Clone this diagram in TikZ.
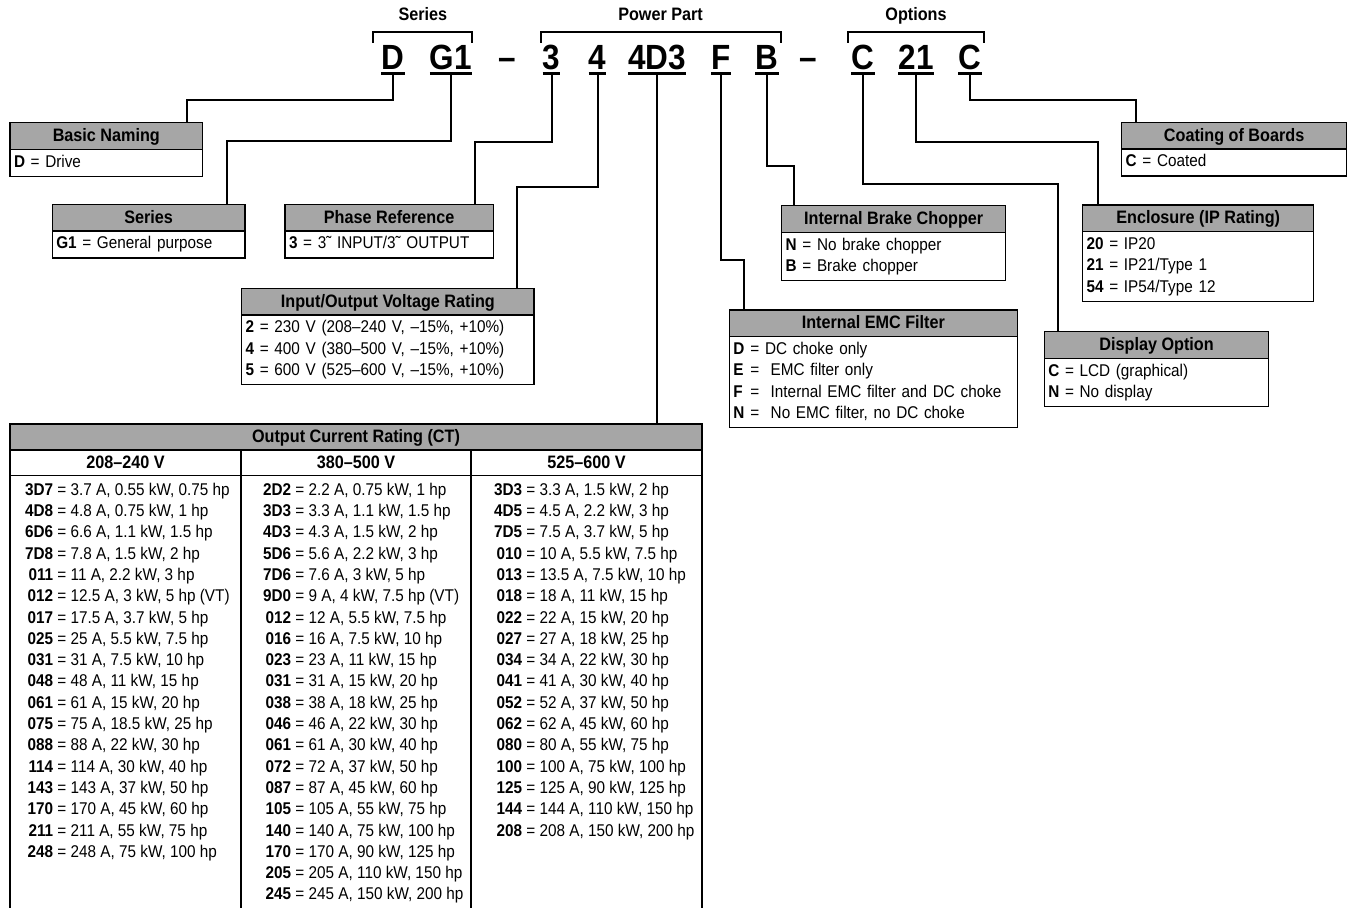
\documentclass[tikz,border=0pt]{standalone}
\usepackage{fontspec}
\setmainfont{Liberation Sans}[FakeStretch=0.9]
\usetikzlibrary{calc}
\definecolor{hdrgray}{RGB}{166,166,166}
\newcommand\bodyfont{\fontsize{17}{21.3}\selectfont}
\newcommand\hdrfont{\fontsize{18}{21}\selectfont\bfseries}
\newcommand\codefont{\fontsize{35}{40}\selectfont\bfseries}
\newcommand\entry[2]{\strut\textbf{#1} = #2}
\newcommand\emc[2]{\strut\makebox[11.5pt][l]{\textbf{#1}} = #2}
\newcommand\rating[2]{\strut\makebox[29pt][r]{\textbf{#1}} = #2}

\begin{document}
\begin{tikzpicture}[x=1pt, y=-1pt,
  code/.style={font=\codefont, inner sep=0pt, anchor=base},
  uline/.style={line width=2.4pt},
  wire/.style={line width=2pt},
  brk/.style={line width=2pt},
  lbl/.style={font=\hdrfont, inner sep=0pt, anchor=base},
  hdr/.style={draw, line width=1.3pt, fill=hdrgray, font=\hdrfont, inner sep=0pt, outer sep=0pt,
    minimum height=26.7pt, text height=14pt, text depth=3pt, anchor=north west},
  body/.style={draw, line width=1.3pt, font=\bodyfont, align=left, inner xsep=4pt, inner ysep=2.85pt,
    outer sep=0pt, anchor=north west},
  cell/.style={draw, line width=1.3pt, font=\hdrfont, inner sep=0pt, outer sep=0pt,
    minimum height=25.5pt, text height=14pt, text depth=3pt, anchor=north west},
  frame/.style={line width=1.3pt},
  colbody/.style={font=\bodyfont, align=left, inner xsep=0pt, inner ysep=4.6pt, anchor=north west}]

\useasboundingbox (0,0) rectangle (1351,907);

% type code
\node[code] (cD) at (393,70) {D};
\node[code] (cG) at (451,70) {G1};
\node[code] (dashA) at (507,70) {–};
\node[code] (c3) at (551.5,70) {3};
\node[code] (c4) at (597.5,70) {4};
\node[code] (c4D3) at (657,70) {4D3};
\node[code] (cF) at (721,70) {F};
\node[code] (cB) at (767,70) {B};
\node[code] (dashB) at (808,70) {–};
\node[code] (cC) at (863,70) {C};
\node[code] (c21) at (916,70) {21};
\node[code] (cCo) at (970,70) {C};
\foreach \c in {cD,cG,c3,c4,c4D3,cF,cB,cC,c21,cCo} {
  \draw[uline] ([yshift=-3.5pt]\c.base west) -- ([yshift=-3.5pt]\c.base east);
  \coordinate (u\c) at ([yshift=-3.5pt]\c.base);
}

% brackets
\coordinate (sL) at ([xshift=-8pt]cD.west); \coordinate (sR) at (cG.east);
\coordinate (pL) at ([xshift=-2pt]c3.west); \coordinate (pR) at ([xshift=2pt]cB.east);
\coordinate (oL) at ([xshift=-3pt]cC.west); \coordinate (oR) at ([xshift=2pt]cCo.east);
\draw[brk] (sL |- 0,43) -- (sL |- 0,32) -- (sR |- 0,32) -- (sR |- 0,43);
\draw[brk] (pL |- 0,43) -- (pL |- 0,32) -- (pR |- 0,32) -- (pR |- 0,43);
\draw[brk] (oL |- 0,43) -- (oL |- 0,32) -- (oR |- 0,32) -- (oR |- 0,43);
\node[lbl] (lSeries) at ($(sL |- 0,21)!0.5!(sR |- 0,21)$) {Series};
\node[lbl] (lPower) at ($(pL |- 0,21)!0.5!(pR |- 0,21)$) {Power Part};
\node[lbl] (lOptions) at ($(oL |- 0,21)!0.5!(oR |- 0,21)$) {Options};

% boxes
\node[hdr, minimum width=192.7pt] (hBasic) at (10,122.7) {Basic Naming};
\node[body, text width=184.7pt] (bBasic) at (hBasic.south west) {\entry{D}{Drive}};

\node[hdr, minimum width=192.7pt] (hSeries) at (52.3,204.3) {Series};
\node[body, text width=184.7pt] (bSeries) at (hSeries.south west) {\entry{G1}{General purpose}};

\node[hdr, minimum width=208.3pt] (hPhase) at (285,204.3) {Phase Reference};
\node[body, text width=200.3pt] (bPhase) at (hPhase.south west) {\entry{3}{3˜ INPUT/3˜ OUTPUT}};

\node[hdr, minimum width=292.3pt] (hVolt) at (241.7,288.3) {Input/Output Voltage Rating};
\node[body, text width=284.3pt] (bVolt) at (hVolt.south west) {\entry{2}{230 V (208–240 V, –15\%, +10\%)}\\
  \entry{4}{400 V (380–500 V, –15\%, +10\%)}\\ \entry{5}{600 V (525–600 V, –15\%, +10\%)}};

\node[hdr, minimum width=224pt] (hBrake) at (781.7,205.7) {Internal Brake Chopper};
\node[body, text width=216pt] (bBrake) at (hBrake.south west) {\entry{N}{No brake chopper}\\ \entry{B}{Brake chopper}};

\node[hdr, minimum width=288pt] (hEMC) at (729.3,310) {Internal EMC Filter};
\node[body, text width=280pt] (bEMC) at (hEMC.south west) {\emc{D}{DC choke only}\\ \emc{E}{\ EMC filter only}\\
  \emc{F}{\ Internal EMC filter and DC choke}\\ \emc{N}{\ No EMC filter, no DC choke}};

\node[hdr, minimum width=224.8pt] (hCoat) at (1121.7,122.3) {Coating of Boards};
\node[body, text width=216.8pt] (bCoat) at (hCoat.south west) {\entry{C}{Coated}};

\node[hdr, minimum width=231pt] (hEncl) at (1082.7,205) {Enclosure (IP Rating)};
\node[body, text width=223pt] (bEncl) at (hEncl.south west) {\entry{20}{IP20}\\ \entry{21}{IP21/Type 1}\\ \entry{54}{IP54/Type 12}};

\node[hdr, minimum width=224.5pt] (hDisp) at (1044.3,331.7) {Display Option};
\node[body, text width=216.5pt] (bDisp) at (hDisp.south west) {\entry{C}{LCD (graphical)}\\ \entry{N}{No display}};

% current rating table
\node[hdr, minimum width=692pt, minimum height=26pt] (tabHead) at (10,424) {Output Current Rating (CT)};
\node[cell, minimum width=231pt] (colA) at (tabHead.south west) {208–240 V};
\node[cell, minimum width=230pt] (colB) at (colA.north east) {380–500 V};
\node[cell, minimum width=231pt] (colC) at (colB.north east) {525–600 V};
\foreach \a in {colA.south west, colA.south east, colB.south east, colC.south east}
  \draw[frame] (\a) -- ++(0,445);

\node[colbody] (rowsA) at ([xshift=14pt]colA.south west) {\rating{3D7}{3.7 A, 0.55 kW, 0.75 hp}\\
  \rating{4D8}{4.8 A, 0.75 kW, 1 hp}\\ \rating{6D6}{6.6 A, 1.1 kW, 1.5 hp}\\ \rating{7D8}{7.8 A, 1.5 kW, 2 hp}\\
  \rating{011}{11 A, 2.2 kW, 3 hp}\\ \rating{012}{12.5 A, 3 kW, 5 hp (VT)}\\ \rating{017}{17.5 A, 3.7 kW, 5 hp}\\
  \rating{025}{25 A, 5.5 kW, 7.5 hp}\\ \rating{031}{31 A, 7.5 kW, 10 hp}\\ \rating{048}{48 A, 11 kW, 15 hp}\\
  \rating{061}{61 A, 15 kW, 20 hp}\\ \rating{075}{75 A, 18.5 kW, 25 hp}\\ \rating{088}{88 A, 22 kW, 30 hp}\\
  \rating{114}{114 A, 30 kW, 40 hp}\\ \rating{143}{143 A, 37 kW, 50 hp}\\ \rating{170}{170 A, 45 kW, 60 hp}\\
  \rating{211}{211 A, 55 kW, 75 hp}\\ \rating{248}{248 A, 75 kW, 100 hp}};
\node[colbody] (rowsB) at ([xshift=21pt]colB.south west) {\rating{2D2}{2.2 A, 0.75 kW, 1 hp}\\
  \rating{3D3}{3.3 A, 1.1 kW, 1.5 hp}\\ \rating{4D3}{4.3 A, 1.5 kW, 2 hp}\\ \rating{5D6}{5.6 A, 2.2 kW, 3 hp}\\
  \rating{7D6}{7.6 A, 3 kW, 5 hp}\\ \rating{9D0}{9 A, 4 kW, 7.5 hp (VT)}\\ \rating{012}{12 A, 5.5 kW, 7.5 hp}\\
  \rating{016}{16 A, 7.5 kW, 10 hp}\\ \rating{023}{23 A, 11 kW, 15 hp}\\ \rating{031}{31 A, 15 kW, 20 hp}\\
  \rating{038}{38 A, 18 kW, 25 hp}\\ \rating{046}{46 A, 22 kW, 30 hp}\\ \rating{061}{61 A, 30 kW, 40 hp}\\
  \rating{072}{72 A, 37 kW, 50 hp}\\ \rating{087}{87 A, 45 kW, 60 hp}\\ \rating{105}{105 A, 55 kW, 75 hp}\\
  \rating{140}{140 A, 75 kW, 100 hp}\\ \rating{170}{170 A, 90 kW, 125 hp}\\ \rating{205}{205 A, 110 kW, 150 hp}\\
  \rating{245}{245 A, 150 kW, 200 hp}};
\node[colbody] (rowsC) at ([xshift=22pt]colC.south west) {\rating{3D3}{3.3 A, 1.5 kW, 2 hp}\\
  \rating{4D5}{4.5 A, 2.2 kW, 3 hp}\\ \rating{7D5}{7.5 A, 3.7 kW, 5 hp}\\ \rating{010}{10 A, 5.5 kW, 7.5 hp}\\
  \rating{013}{13.5 A, 7.5 kW, 10 hp}\\ \rating{018}{18 A, 11 kW, 15 hp}\\ \rating{022}{22 A, 15 kW, 20 hp}\\
  \rating{027}{27 A, 18 kW, 25 hp}\\ \rating{034}{34 A, 22 kW, 30 hp}\\ \rating{041}{41 A, 30 kW, 40 hp}\\
  \rating{052}{52 A, 37 kW, 50 hp}\\ \rating{062}{62 A, 45 kW, 60 hp}\\ \rating{080}{80 A, 55 kW, 75 hp}\\
  \rating{100}{100 A, 75 kW, 100 hp}\\ \rating{125}{125 A, 90 kW, 125 hp}\\ \rating{144}{144 A, 110 kW, 150 hp}\\
  \rating{208}{208 A, 150 kW, 200 hp}};

% connectors
\coordinate (pBasic) at (186.5,122.7);
\coordinate (pSeries) at (227,204.3);
\coordinate (pPhase) at (475,204.3);
\coordinate (pVolt) at (517,288.3);
\coordinate (pEMC) at (744,310);
\coordinate (pBrake) at (794,205.7);
\coordinate (pDisp) at (1058,331.7);
\coordinate (pEncl) at (1097.7,205);
\coordinate (pCoat) at (1136,122.3);
\draw[wire] (ucD) -- ++(0,26.5) -| (pBasic);
\draw[wire] (ucG) -- ++(0,67.5) -| (pSeries);
\draw[wire] (uc3) -- ++(0,68.5) -| (pPhase);
\draw[wire] (uc4) -- ++(0,113.5) -| (pVolt);
\draw[wire] (uc4D3) -- (uc4D3 |- tabHead.north);
\draw[wire] (ucF) -- ++(0,186) -| (pEMC);
\draw[wire] (ucB) -- ++(0,92.5) -| (pBrake);
\draw[wire] (ucC) -- ++(0,110) -| (pDisp);
\draw[wire] (uc21) -- ++(0,68) -| (pEncl);
\draw[wire] (ucCo) -- ++(0,26) -| (pCoat);
\end{tikzpicture}
\end{document}
